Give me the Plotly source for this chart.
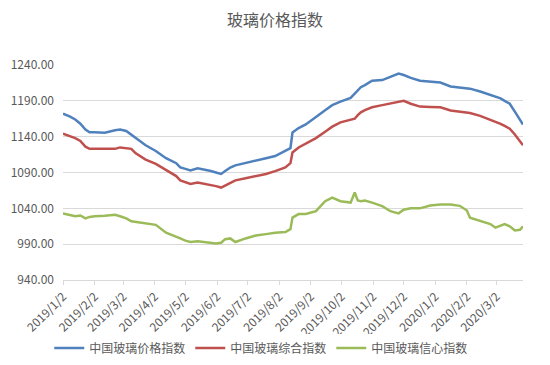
import plotly.graph_objects as go

dates = [
    "2019-01-02", "2019-01-09", "2019-01-14", "2019-01-19", "2019-01-24", "2019-01-28",
    "2019-02-02", "2019-02-12", "2019-02-22", "2019-02-27", "2019-03-05", "2019-03-10",
    "2019-03-14", "2019-03-24", "2019-04-03", "2019-04-13", "2019-04-23", "2019-04-27",
    "2019-05-02", "2019-05-07", "2019-05-14", "2019-05-22", "2019-05-27", "2019-06-01",
    "2019-06-06", "2019-06-10", "2019-06-15", "2019-06-20", "2019-06-30", "2019-07-10",
    "2019-07-20", "2019-07-29", "2019-08-08", "2019-08-13", "2019-08-15", "2019-08-21",
    "2019-08-28", "2019-09-07", "2019-09-16", "2019-09-23", "2019-10-01", "2019-10-11",
    "2019-10-15", "2019-10-18", "2019-10-21", "2019-10-25", "2019-11-01", "2019-11-11",
    "2019-11-19", "2019-11-27", "2019-12-02", "2019-12-09", "2019-12-18", "2019-12-28",
    "2020-01-07", "2020-01-17", "2020-01-26", "2020-02-02", "2020-02-05", "2020-02-15",
    "2020-02-25", "2020-03-01", "2020-03-06", "2020-03-10", "2020-03-15", "2020-03-20",
    "2020-03-25", "2020-03-28",
]

price_index = [
    1172, 1168, 1164, 1158, 1150, 1146,
    1146, 1145.5, 1149, 1150, 1148, 1143,
    1138, 1128, 1120, 1110, 1103, 1097,
    1095, 1093, 1096, 1094, 1092, 1090,
    1088, 1092, 1097, 1100, 1103, 1107,
    1110, 1113, 1120, 1124, 1146, 1152,
    1157, 1168, 1177, 1184, 1189, 1194,
    1200, 1205, 1209, 1212, 1218, 1219,
    1224, 1228, 1226, 1222, 1218, 1216.5,
    1215.5, 1210, 1208.5, 1208, 1207, 1203,
    1198, 1196, 1193.5, 1190, 1186, 1175,
    1164, 1157,
]

composite_index = [
    1144, 1141, 1138, 1134, 1126, 1123,
    1123, 1122.5, 1123, 1125, 1124, 1123,
    1117, 1108, 1102, 1093, 1085, 1079,
    1076, 1074, 1076, 1074, 1072, 1071,
    1069, 1072, 1076, 1079, 1082, 1085,
    1088, 1092, 1097, 1103, 1118, 1125,
    1130, 1138, 1147, 1154, 1160, 1163,
    1165, 1170, 1174, 1177, 1181, 1184,
    1186, 1189, 1190, 1186, 1182, 1181.5,
    1181, 1176.5, 1175, 1174, 1173, 1169,
    1164, 1161, 1158, 1155, 1151, 1143,
    1134, 1128,
]

confidence_index = [
    1033, 1031, 1029, 1030, 1026, 1028,
    1029, 1029.5, 1031, 1029, 1026, 1022,
    1021, 1019, 1017, 1006, 1001, 998,
    995, 993, 994, 993, 991.5, 991,
    992, 997, 998, 993, 998, 1002,
    1004, 1006, 1007, 1011, 1027, 1032,
    1032, 1036, 1050, 1055, 1050, 1048,
    1062, 1051, 1050, 1051, 1048, 1043,
    1036, 1033, 1038, 1040, 1040, 1044,
    1045.5, 1045.5, 1043.5, 1037, 1027, 1022,
    1018, 1013, 1016, 1018, 1015, 1009,
    1010, 1015,
]

series_names = ["中国玻璃价格指数", "中国玻璃综合指数", "中国玻璃信心指数"]
series_colors = ["#4F81BD", "#C0504D", "#9BBB59"]
y_ticks = [940, 990, 1040, 1090, 1140, 1190, 1240]

FONT = "Noto Sans CJK SC"

fig = go.Figure()
for name, vals, col in zip(series_names, [price_index, composite_index, confidence_index], series_colors):
    fig.add_trace(go.Scatter(
        x=dates, y=vals, mode="lines", name=name,
        line=dict(color=col, width=2.5),
    ))

fig.update_layout(
    width=550, height=365,
    margin=dict(l=63, r=27, t=65, b=85, autoexpand=False),
    paper_bgcolor="white", plot_bgcolor="white",
    font=dict(family=FONT, color="#595959", size=11),
    title=dict(text="玻璃价格指数", x=0.5, xref="container", xanchor="center",
               y=1 - 20 / 365, yref="container", yanchor="middle",
               font=dict(family=FONT, size=16, color="#595959")),
    showlegend=True,
    legend=dict(orientation="h", xref="container", yref="container",
                x=0.475, xanchor="center", y=1 - 348 / 365, yanchor="middle",
                font=dict(family=FONT, size=12, color="#595959"),
                itemwidth=30, tracegroupgap=0),
)

fig.update_xaxes(
    type="date", automargin=False,
    range=["2019-01-02", "2020-03-28"],
    tick0="2019-01-02", dtick="M1",
    tickformat="%Y/%-m/%-d", tickangle=-45,
    showgrid=False, showline=True, linecolor="#d9d9d9", linewidth=1,
    ticks="outside", ticklen=4, tickcolor="#d9d9d9",
    tickfont=dict(family=FONT, size=12, color="#595959"),
    zeroline=False,
)
fig.update_yaxes(
    automargin=False,
    range=[940, 1240], tickvals=y_ticks,
    ticktext=[f"{v:.2f}" for v in y_ticks],
    showgrid=True, gridcolor="#d9d9d9", gridwidth=1,
    showline=False, zeroline=False, ticks="",
    ticklabelstandoff=8,
    tickfont=dict(family=FONT, size=12, color="#595959"),
)

fig.write_html("out.html")
